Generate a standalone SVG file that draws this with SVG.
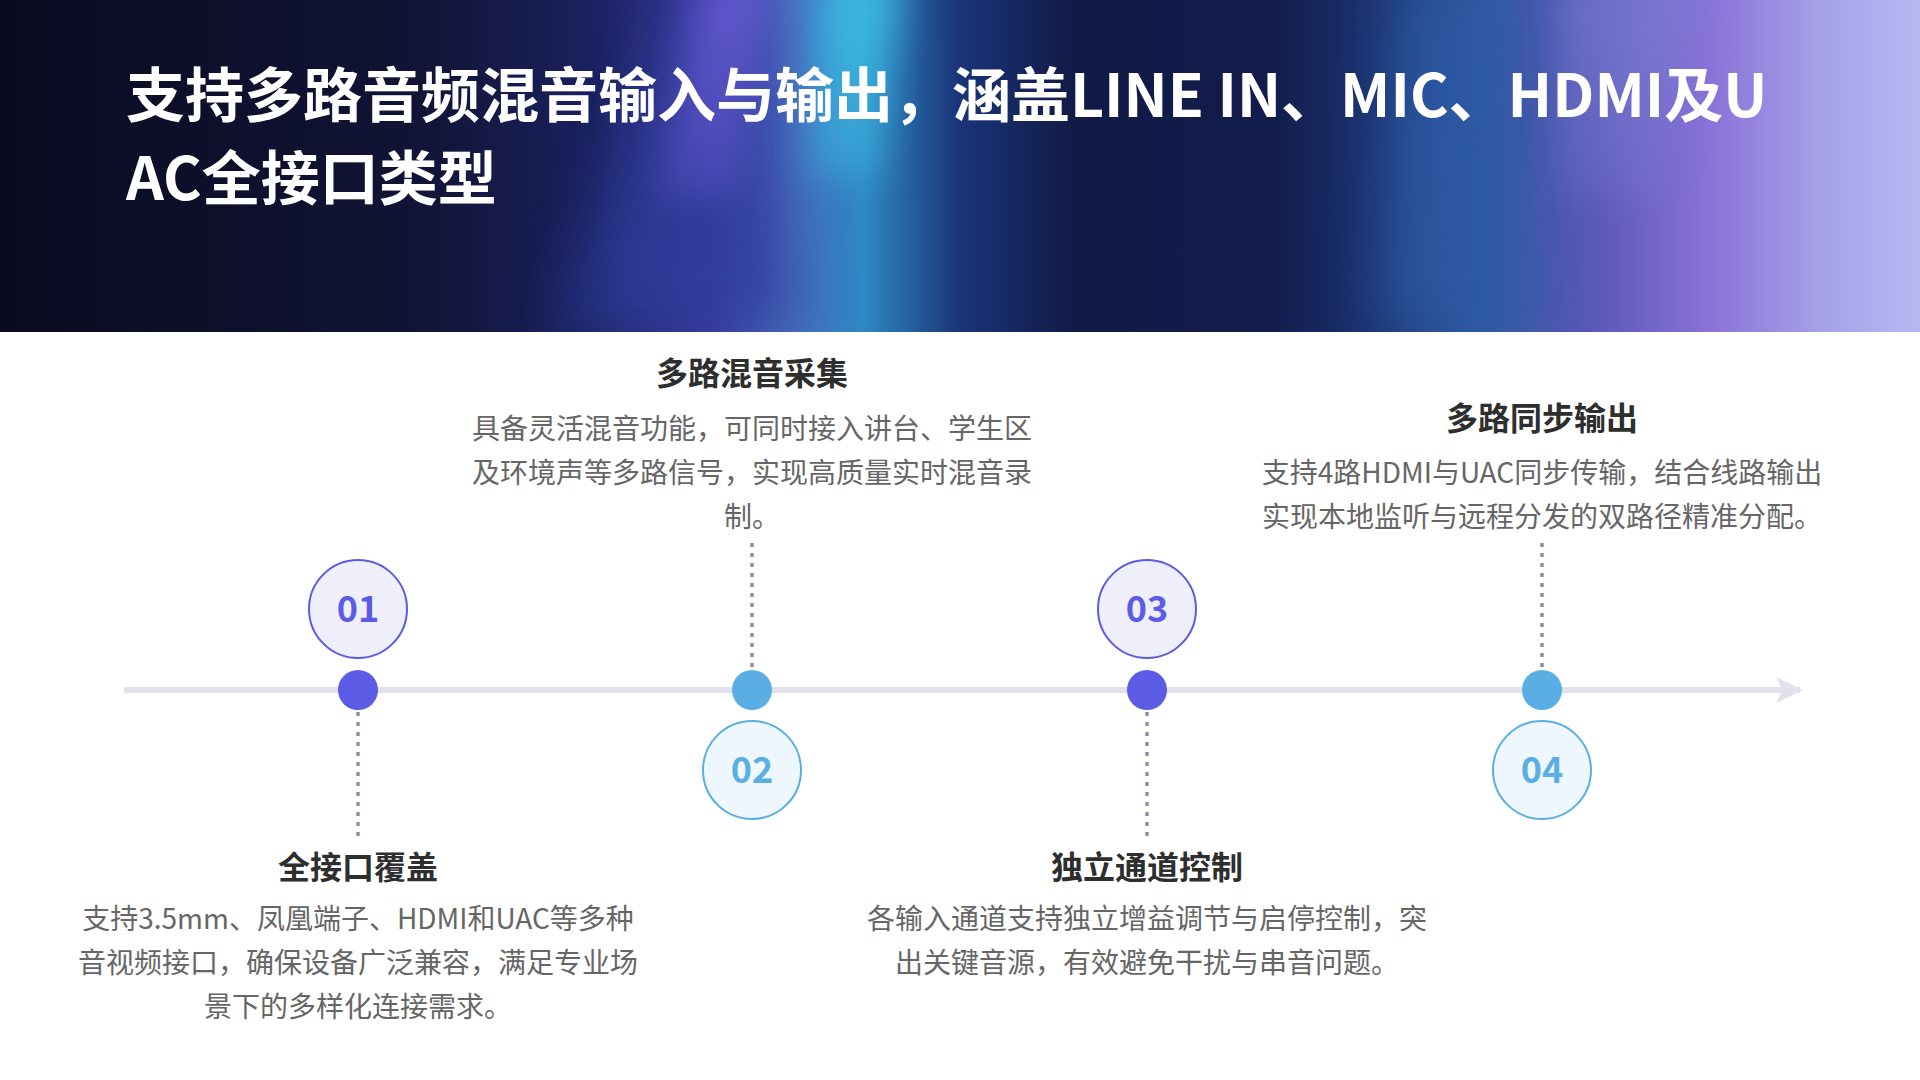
<svg xmlns="http://www.w3.org/2000/svg" width="1920" height="1080" viewBox="0 0 1920 1080">
  <defs>
    <linearGradient id="hdrBase" x1="0" y1="0" x2="1" y2="0">
      <stop offset="0" stop-color="#0a0a20"/>
      <stop offset="0.22" stop-color="#111436"/>
      <stop offset="0.31" stop-color="#1a2260"/>
      <stop offset="0.37" stop-color="#3a3a9e"/>
      <stop offset="0.41" stop-color="#4a70c0"/>
      <stop offset="0.45" stop-color="#2f88c4"/>
      <stop offset="0.50" stop-color="#1a3478"/>
      <stop offset="0.56" stop-color="#111a46"/>
      <stop offset="0.66" stop-color="#121c4c"/>
      <stop offset="0.72" stop-color="#1c3472"/>
      <stop offset="0.77" stop-color="#2d5aa0"/>
      <stop offset="0.83" stop-color="#5a58b8"/>
      <stop offset="0.89" stop-color="#8a72d8"/>
      <stop offset="0.95" stop-color="#a6a2e8"/>
      <stop offset="1" stop-color="#b6b8f2"/>
    </linearGradient>
    <linearGradient id="fadeDown" x1="0" y1="0" x2="0" y2="1">
      <stop offset="0" stop-color="#ffffff" stop-opacity="1"/>
      <stop offset="1" stop-color="#ffffff" stop-opacity="0"/>
    </linearGradient>
    <mask id="topMask">
      <rect x="0" y="0" width="1920" height="332" fill="url(#fadeDown)"/>
    </mask>
    <clipPath id="hdrClip">
      <rect x="0" y="0" width="1920" height="332"/>
    </clipPath>
    <filter id="blur" x="-50%" y="-50%" width="200%" height="200%">
      <feGaussianBlur stdDeviation="30"/>
    </filter>
    <filter id="blurS" x="-50%" y="-50%" width="200%" height="200%">
      <feGaussianBlur stdDeviation="18"/>
    </filter>
    <marker id="arrowHead" viewBox="0 0 10 10" refX="9" refY="5" markerWidth="4.5" markerHeight="4.5" markerUnits="strokeWidth" orient="auto">
      <path d="M0,0 L10,5 L0,10 L2.5,5 Z" fill="#e0e1ec"/>
    </marker>
    <style>
      .title { font-family: "Noto Sans CJK SC", "Noto Sans", sans-serif; font-weight: 700; font-size: 59px; fill: #ffffff; }
      .ntitle { font-family: "Noto Sans CJK SC", "Noto Sans", sans-serif; font-weight: 700; font-size: 32px; fill: #2e2e2e; text-anchor: middle; }
      .desc { font-family: "Noto Sans CJK SC", "Noto Sans", sans-serif; font-weight: 400; font-size: 28px; fill: #666666; text-anchor: middle; }
      .num { font-family: "Noto Sans CJK SC", "Noto Sans", sans-serif; font-weight: 700; font-size: 36px; text-anchor: middle; }
      .dash { stroke: #8e8eaa; stroke-width: 3.5; stroke-dasharray: 4 6; fill: none; }
      .indigo .ring { fill: #efeffc; stroke: #5b5be6; stroke-width: 2; }
      .indigo .dot { fill: #5b5be6; }
      .indigo .num { fill: #5b5be6; }
      .sky .ring { fill: #eef7fd; stroke: #5aaee3; stroke-width: 2; }
      .sky .dot { fill: #5aaee3; }
      .sky .num { fill: #5aaee3; }
    </style>
  </defs>

  <rect x="0" y="0" width="1920" height="1080" fill="#ffffff"/>

  <g id="header" clip-path="url(#hdrClip)">
    <rect x="0" y="0" width="1920" height="332" fill="url(#hdrBase)"/>
    <g filter="url(#blur)" opacity="0.75">
      <polygon points="560,332 800,332 760,-20 690,-20" fill="#2e3c9c"/>
      <polygon points="1380,332 1520,332 1480,-20 1400,-20" fill="#2f5aa6"/>
    </g>
    <g filter="url(#blurS)" mask="url(#topMask)">
      <polygon points="700,-20 770,-20 740,200 660,200" fill="#6a5cd8" opacity="0.8"/>
      <polygon points="820,-20 900,-20 880,180 810,180" fill="#3cc0e6" opacity="0.85"/>
      <polygon points="1560,-20 1700,-20 1660,200 1560,200" fill="#8088d8" opacity="0.5"/>
    </g>
    <text class="title" x="126" y="117">支持多路音频混音输入与输出，涵盖LINE IN、MIC、HDMI及U</text>
    <text class="title" x="126" y="200">AC全接口类型</text>
  </g>

  <g id="connectors">
    <line x1="124" y1="690" x2="1800" y2="690" stroke="#e0e1ec" stroke-width="6" marker-end="url(#arrowHead)"/>
    <line class="dash" x1="358" y1="712" x2="358" y2="841"/>
    <line class="dash" x1="752" y1="543" x2="752" y2="668"/>
    <line class="dash" x1="1147" y1="712" x2="1147" y2="841"/>
    <line class="dash" x1="1542" y1="543" x2="1542" y2="668"/>
  </g>

  <g id="node-01" class="indigo">
    <circle class="ring" cx="358" cy="609" r="49"/>
    <text class="num" x="358" y="622">01</text>
    <circle class="dot" cx="358" cy="690" r="20"/>
    <text class="ntitle" x="358" y="879">全接口覆盖</text>
    <text class="desc" x="358" y="929">支持3.5mm、凤凰端子、HDMI和UAC等多种</text>
    <text class="desc" x="358" y="973">音视频接口，确保设备广泛兼容，满足专业场</text>
    <text class="desc" x="358" y="1017">景下的多样化连接需求。</text>
  </g>

  <g id="node-02" class="sky">
    <circle class="ring" cx="752" cy="770" r="49"/>
    <text class="num" x="752" y="783">02</text>
    <circle class="dot" cx="752" cy="690" r="20"/>
    <text class="ntitle" x="752" y="385">多路混音采集</text>
    <text class="desc" x="752" y="439">具备灵活混音功能，可同时接入讲台、学生区</text>
    <text class="desc" x="752" y="483">及环境声等多路信号，实现高质量实时混音录</text>
    <text class="desc" x="752" y="527">制。</text>
  </g>

  <g id="node-03" class="indigo">
    <circle class="ring" cx="1147" cy="609" r="49"/>
    <text class="num" x="1147" y="622">03</text>
    <circle class="dot" cx="1147" cy="690" r="20"/>
    <text class="ntitle" x="1147" y="879">独立通道控制</text>
    <text class="desc" x="1147" y="929">各输入通道支持独立增益调节与启停控制，突</text>
    <text class="desc" x="1147" y="973">出关键音源，有效避免干扰与串音问题。</text>
  </g>

  <g id="node-04" class="sky">
    <circle class="ring" cx="1542" cy="770" r="49"/>
    <text class="num" x="1542" y="783">04</text>
    <circle class="dot" cx="1542" cy="690" r="20"/>
    <text class="ntitle" x="1542" y="430">多路同步输出</text>
    <text class="desc" x="1542" y="483">支持4路HDMI与UAC同步传输，结合线路输出</text>
    <text class="desc" x="1542" y="527">实现本地监听与远程分发的双路径精准分配。</text>
  </g>
</svg>
